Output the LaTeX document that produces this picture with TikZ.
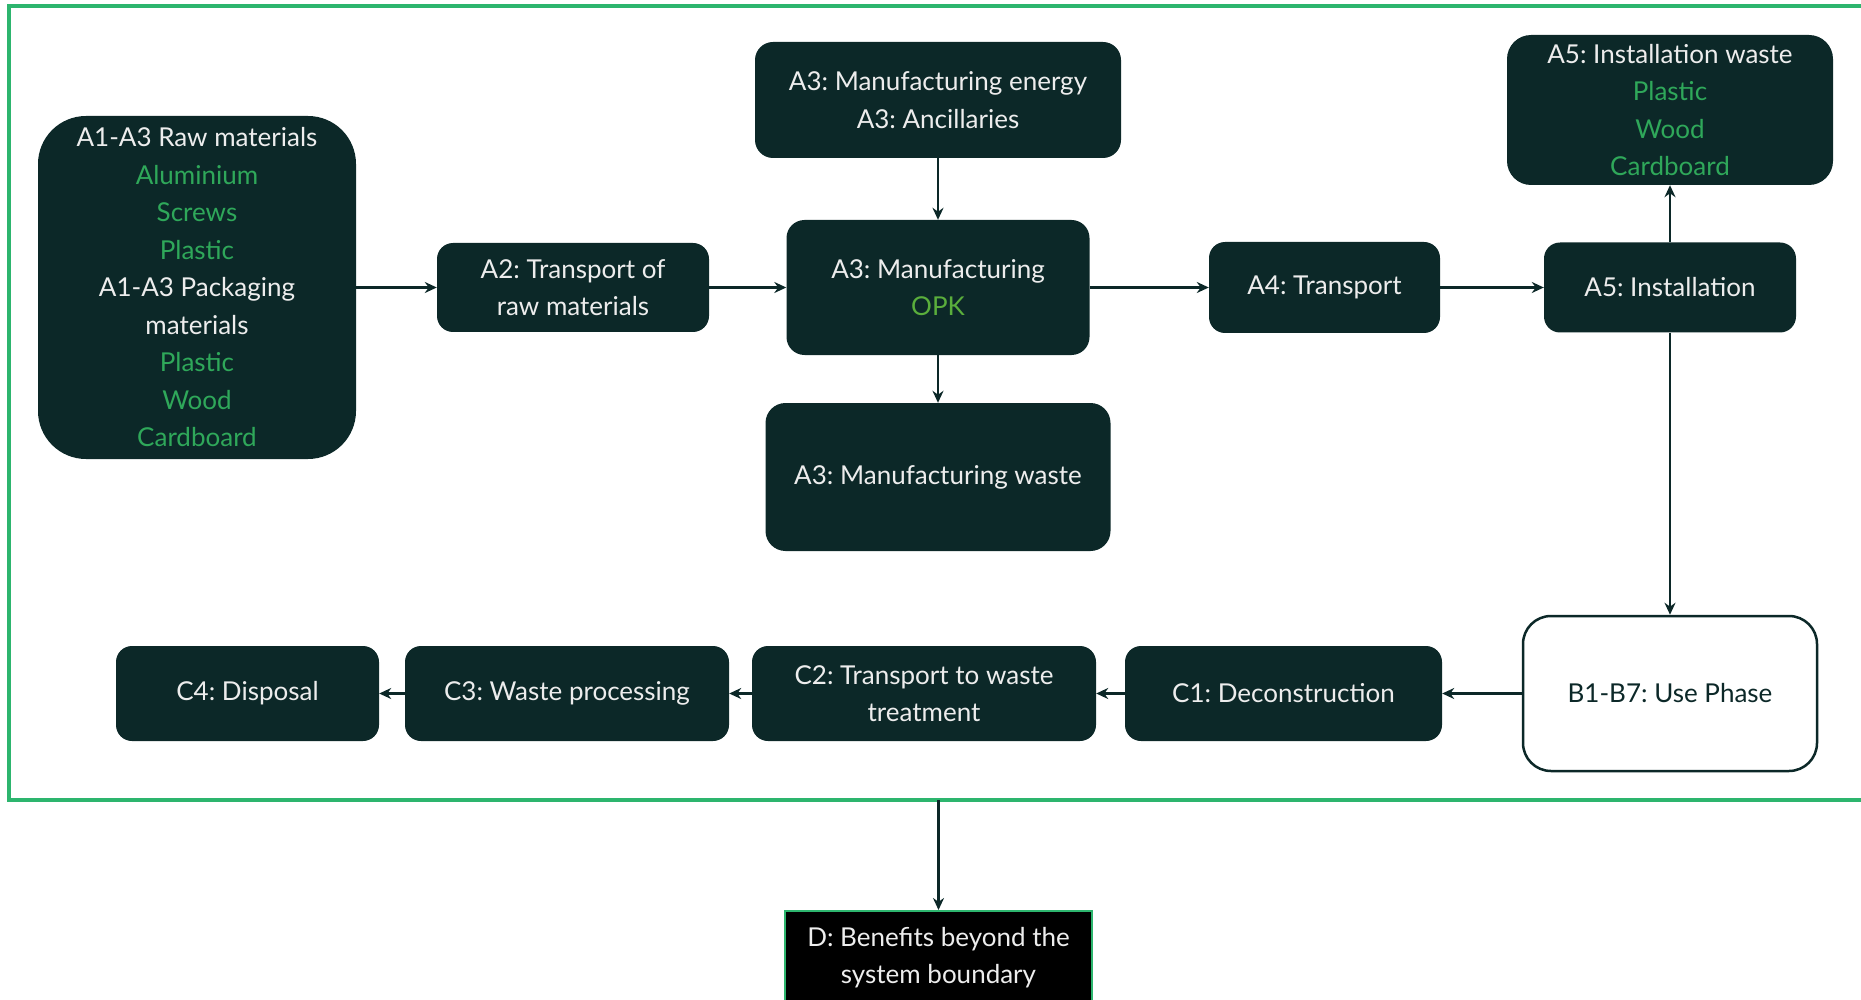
\documentclass[tikz,border=0pt]{standalone}
\usepackage{fontspec}
\setmainfont{Lato}
\frenchspacing
\usetikzlibrary{arrows.meta}
\definecolor{boxdark}{HTML}{0C2828}
\definecolor{matgreen}{HTML}{2FA85A}
\definecolor{opkgreen}{HTML}{5AAE3C}
\definecolor{framegreen}{HTML}{2DB56E}
\definecolor{txtlight}{HTML}{EDEDED}
\begin{document}
\begin{tikzpicture}[x=1pt,y=-1pt,
  stage/.style={fill=boxdark,text=txtlight,rounded corners=16pt,align=center,inner sep=0pt,
    font=\fontsize{26}{37.5}\selectfont},
  usebox/.style={stage,fill=white,draw=boxdark,line width=2.5pt,text=boxdark,rounded corners=28pt},
  flow/.style={draw=boxdark,line width=2.2pt,-{Stealth[length=12pt,width=11pt]}}]
  \clip (0,0) rectangle (1861,1000);
  \draw[framegreen,line width=4pt] (9,6) rectangle (1875,800);

  \node[stage,minimum width=318pt,minimum height=343pt,rounded corners=48pt] (raw) at (197,287.5)
    {A1-A3 Raw materials\\\textcolor{matgreen}{Aluminium}\\\textcolor{matgreen}{Screws}\\\textcolor{matgreen}{Plastic}\\
     A1-A3 Packaging\\materials\\\textcolor{matgreen}{Plastic}\\\textcolor{matgreen}{Wood}\\\textcolor{matgreen}{Cardboard}};
  \node[stage,minimum width=272pt,minimum height=89pt] (trans) at (573,287.5) {A2: Transport of\\raw materials};
  \node[stage,minimum width=366pt,minimum height=116pt,rounded corners=18pt] (energy) at (938,100)
    {A3: Manufacturing energy\\A3: Ancillaries};
  \node[stage,minimum width=303pt,minimum height=135pt,rounded corners=18pt] (manuf) at (938,287.5)
    {A3: Manufacturing\\\textcolor{opkgreen}{OPK}};
  \node[stage,minimum width=345pt,minimum height=148pt,rounded corners=20pt] (mwaste) at (938,477)
    {A3: Manufacturing waste};
  \node[stage,minimum width=231pt,minimum height=91pt] (trnsp) at (1324.5,287.5) {A4: Transport};
  \node[stage,minimum width=252pt,minimum height=90pt] (inst) at (1670,287.5) {A5: Installation};
  \node[stage,minimum width=326pt,minimum height=150pt,rounded corners=24pt] (iwaste) at (1670,110)
    {A5: Installation waste\\\textcolor{matgreen}{Plastic}\\\textcolor{matgreen}{Wood}\\\textcolor{matgreen}{Cardboard}};
  \node[usebox,minimum width=294pt,minimum height=155pt] (use) at (1670,693.5) {B1-B7: Use Phase};
  \node[stage,minimum width=317pt,minimum height=95pt] (decon) at (1283.5,693.5) {C1: Deconstruction};
  \node[stage,minimum width=344pt,minimum height=95pt] (wtrans) at (924,693.5) {C2: Transport to waste\\treatment};
  \node[stage,minimum width=324pt,minimum height=95pt] (wproc) at (567,693.5) {C3: Waste processing};
  \node[stage,minimum width=263pt,minimum height=95pt] (disp) at (247.5,693.5) {C4: Disposal};
  \node[stage,fill=black,draw=framegreen,line width=1.5pt,rounded corners=0pt,minimum width=307pt,
    minimum height=94pt,anchor=north] (bnft) at (938.5,910) {D: Benefits beyond the\\system boundary};
  \coordinate (edge) at (938.5,800);

  \draw[flow] (raw) -- (trans);
  \draw[flow] (trans) -- (manuf);
  \draw[flow] (energy) -- (manuf);
  \draw[flow] (manuf) -- (mwaste);
  \draw[flow] (manuf) -- (trnsp);
  \draw[flow] (trnsp) -- (inst);
  \draw[flow] (inst) -- (iwaste);
  \draw[flow] (inst) -- (use);
  \draw[flow] (use) -- (decon);
  \draw[flow] (decon) -- (wtrans);
  \draw[flow] (wtrans) -- (wproc);
  \draw[flow] (wproc) -- (disp);
  \draw[flow] (edge) -- (bnft);
\end{tikzpicture}
\end{document}
